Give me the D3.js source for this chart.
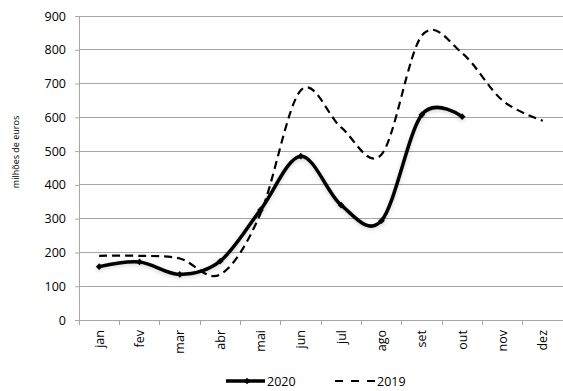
<!DOCTYPE html>
<html>
<head>
<meta charset="utf-8">
<script src="https://cdn.jsdelivr.net/npm/d3@7"></script>
<style>
  html, body { margin: 0; padding: 0; background: #fff; }
  svg { display: block; font-family: "Open Sans", "Liberation Sans", sans-serif; }
</style>
</head>
<body>
<svg id="chart" width="563" height="391"></svg>
<script>
// Monthly values, millions of euros
const months = ["jan", "fev", "mar", "abr", "mai", "jun", "jul", "ago", "set", "out", "nov", "dez"];
const values2020 = [158, 172, 135, 174, 326, 485, 340, 294, 608, 602];
const values2019 = [190, 190, 182, 135, 315, 680, 570, 490, 842, 790, 650, 590];
const yTicks = [0, 100, 200, 300, 400, 500, 600, 700, 800, 900];
const yTitle = "milhões de euros";

const svg = d3.select("#chart");
const plotLeft = 79, plotRight = 563, plotTop = 16, plotBottom = 320;
const fontSize = 12.5;

const x = d3.scaleBand().domain(months).range([plotLeft, plotRight]);
const y = d3.scaleLinear().domain([0, 900]).range([plotBottom, plotTop]);
const cx = m => x(m) + x.bandwidth() / 2;

const defs = svg.append("defs");
const f = defs.append("filter").attr("id", "shadow")
  .attr("x", "-10%").attr("y", "-10%").attr("width", "120%").attr("height", "120%");
f.append("feDropShadow").attr("dx", 0).attr("dy", 1.5).attr("stdDeviation", 2)
  .attr("flood-color", "#000").attr("flood-opacity", 0.18);

// Horizontal gridlines
svg.append("g").selectAll("line").data(yTicks.filter(d => d > 0)).join("line")
  .attr("x1", plotLeft).attr("x2", plotRight)
  .attr("y1", d => y(d)).attr("y2", d => y(d))
  .attr("stroke", "#a6a6a6").attr("stroke-width", 1).attr("shape-rendering", "crispEdges");

// Y axis
const yAxis = svg.append("g").attr("transform", `translate(${plotLeft},0)`)
  .call(d3.axisLeft(y).tickValues(yTicks).tickSize(4).tickPadding(9));
yAxis.select(".domain").attr("stroke", "#a6a6a6");
yAxis.selectAll(".tick line").attr("stroke", "#a6a6a6");
yAxis.selectAll(".tick text").attr("font-size", fontSize).attr("fill", "#000")
  .attr("font-family", "Open Sans, sans-serif");

// X axis: ticks at category boundaries
const xg = svg.append("g");
xg.append("line").attr("x1", plotLeft).attr("x2", plotRight).attr("y1", plotBottom).attr("y2", plotBottom)
  .attr("stroke", "#a6a6a6").attr("shape-rendering", "crispEdges");
xg.selectAll("line.tk").data(months.concat(["_end"])).join("line").attr("class", "tk")
  .attr("x1", (d, i) => plotLeft + i * x.bandwidth()).attr("x2", (d, i) => plotLeft + i * x.bandwidth())
  .attr("y1", plotBottom).attr("y2", plotBottom + 5)
  .attr("stroke", "#a6a6a6").attr("shape-rendering", "crispEdges");
xg.selectAll("text").data(months).join("text")
  .attr("transform", d => `translate(${cx(d) + 4.5},${plotBottom + 10}) rotate(-90)`)
  .attr("text-anchor", "end")
  .attr("font-size", fontSize).attr("fill", "#000")
  .text(d => d);

// Y title
svg.append("text")
  .attr("transform", `translate(19,${(plotTop + plotBottom) / 2 - 16}) rotate(-90)`)
  .attr("text-anchor", "middle").attr("font-size", 9).attr("fill", "#000")
  .text(yTitle);

// Lines (smoothed)
const line = d3.line().x(d => cx(d.m)).y(d => y(d.v)).curve(d3.curveCardinal.tension(0));
const d2019 = values2019.map((v, i) => ({ m: months[i], v }));
const d2020 = values2020.map((v, i) => ({ m: months[i], v }));

svg.append("path").datum(d2019).attr("d", line)
  .attr("fill", "none").attr("stroke", "#000").attr("stroke-width", 2.2)
  .attr("stroke-dasharray", "8,5");

const g20 = svg.append("g").attr("filter", "url(#shadow)");
g20.append("path").datum(d2020).attr("d", line)
  .attr("fill", "none").attr("stroke", "#000").attr("stroke-width", 3.5)
  .attr("stroke-linejoin", "round");
const diamond = d3.symbol().type(d3.symbolSquare).size(22);
g20.selectAll("path.mk").data(d2020).join("path").attr("class", "mk")
  .attr("d", diamond)
  .attr("transform", d => `translate(${cx(d.m)},${y(d.v)}) rotate(45)`)
  .attr("fill", "#000");

// Legend
const ly = 381;
const leg = svg.append("g");
leg.append("line").attr("x1", 226).attr("x2", 265).attr("y1", ly).attr("y2", ly)
  .attr("stroke", "#000").attr("stroke-width", 3.5);
leg.append("path").attr("d", diamond).attr("transform", `translate(247,${ly}) rotate(45)`).attr("fill", "#000");
leg.append("text").attr("x", 267).attr("y", ly + 4.5).attr("font-size", fontSize).text("2020");
leg.append("line").attr("x1", 335).attr("x2", 375).attr("y1", ly).attr("y2", ly)
  .attr("stroke", "#000").attr("stroke-width", 2.2).attr("stroke-dasharray", "8,8");
leg.append("text").attr("x", 377).attr("y", ly + 4.5).attr("font-size", fontSize).text("2019");
</script>
</body>
</html>
